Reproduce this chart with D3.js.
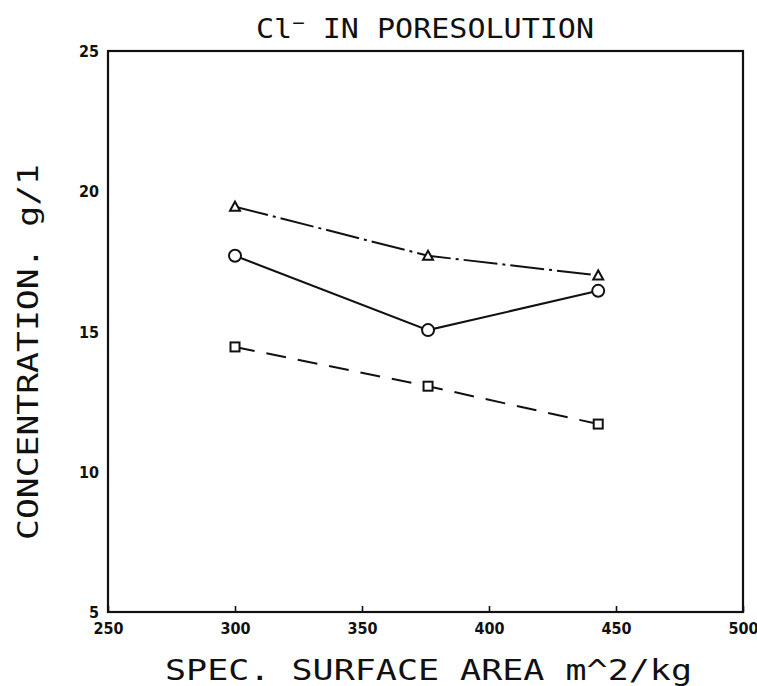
<!DOCTYPE html>
<html>
<head>
<meta charset="utf-8">
<script src="https://cdn.jsdelivr.net/npm/d3@7"></script>
<style>
body { margin: 0; background: #fff; }
svg { display: block; }
</style>
</head>
<body>
<script>
// Cl- in pore solution vs specific surface area

var surfaceArea = [300, 376, 443];
var triangleSeries = [19.45, 17.7, 17.0];
var circleSeries = [17.7, 15.05, 16.45];
var squareSeries = [14.45, 13.05, 11.7];
var xTicks = [250, 300, 350, 400, 450, 500];
var yTicks = [5, 10, 15, 20, 25];

var width = 757, height = 686;
var margin = {left: 108, right: 14, top: 51, bottom: 74};

var svg = d3.select('body').append('svg')
  .attr('width', width)
  .attr('height', height);

var x = d3.scaleLinear().domain([250, 500]).range([margin.left, width - margin.right]);
var y = d3.scaleLinear().domain([5, 25]).range([height - margin.bottom, margin.top]);

var font = "'DejaVu Sans Mono', monospace";

// frame
svg.append('rect')
  .attr('x', x(250)).attr('y', y(25))
  .attr('width', x(500) - x(250)).attr('height', y(5) - y(25))
  .attr('fill', 'none').attr('stroke', '#111').attr('stroke-width', 2.2);

// axes
var xAxis = svg.append('g')
  .attr('transform', 'translate(0,' + y(5) + ')')
  .call(d3.axisBottom(x).tickValues(xTicks).tickSizeInner(-6).tickSizeOuter(0).tickPadding(10));
var yAxis = svg.append('g')
  .attr('transform', 'translate(' + x(250) + ',0)')
  .call(d3.axisLeft(y).tickValues(yTicks).tickSize(0).tickPadding(9));

[xAxis, yAxis].forEach(function(a) {
  a.select('.domain').remove();
  a.selectAll('line').attr('stroke', '#111').attr('stroke-width', 1.6);
  a.selectAll('text')
    .attr('fill', '#111')
    .style('font-family', "'Liberation Sans Narrow', 'DejaVu Sans Condensed', sans-serif")
    .style('font-weight', 'bold')
    .style('font-size', '16px');
});
xAxis.selectAll('text').attr('dy', '0.72em');
yAxis.selectAll('text').attr('dy', '0.35em');

// series
var series = [
  {vals: triangleSeries, dash: '34,5,3,5', marker: 'triangle'},
  {vals: circleSeries, dash: null, marker: 'circle'},
  {vals: squareSeries, dash: '20,12', marker: 'square'}
];

var line = d3.line()
  .x(function(d) { return x(d[0]); })
  .y(function(d) { return y(d[1]); });

series.forEach(function(s) {
  var pts = surfaceArea.map(function(v, i) { return [v, s.vals[i]]; });
  svg.append('path')
    .datum(pts)
    .attr('d', line)
    .attr('fill', 'none')
    .attr('stroke', '#111')
    .attr('stroke-width', 2)
    .attr('stroke-dasharray', s.dash);

  var g = svg.append('g').selectAll('.m').data(pts).enter();
  if (s.marker === 'circle') {
    g.append('circle')
      .attr('cx', function(d) { return x(d[0]); })
      .attr('cy', function(d) { return y(d[1]); })
      .attr('r', 6)
      .attr('fill', '#fff').attr('stroke', '#111').attr('stroke-width', 2);
  } else if (s.marker === 'triangle') {
    g.append('path')
      .attr('d', function(d) {
        var cx = x(d[0]), cy = y(d[1]);
        return 'M' + (cx - 5) + ',' + (cy + 4) + 'L' + cx + ',' + (cy - 5) + 'L' + (cx + 5) + ',' + (cy + 4) + 'Z';
      })
      .attr('fill', '#fff').attr('stroke', '#111').attr('stroke-width', 2);
  } else {
    g.append('rect')
      .attr('x', function(d) { return x(d[0]) - 4.5; })
      .attr('y', function(d) { return y(d[1]) - 4.5; })
      .attr('width', 9).attr('height', 9)
      .attr('fill', '#fff').attr('stroke', '#111').attr('stroke-width', 2);
  }
});

// titles
var title = svg.append('text')
  .attr('x', 256).attr('y', 38)
  .attr('textLength', 338).attr('lengthAdjust', 'spacingAndGlyphs')
  .style('font-family', font).style('font-size', '26px').attr('fill', '#111');
title.append('tspan').text('Cl');
title.append('tspan').attr('dy', -9).style('font-size', '18px').text('\u2212');
title.append('tspan').attr('dy', 9).text(' IN PORESOLUTION');

svg.append('text')
  .attr('x', 165).attr('y', 680)
  .attr('textLength', 527).attr('lengthAdjust', 'spacingAndGlyphs')
  .style('font-family', font).style('font-size', '28px').attr('fill', '#111')
  .text('SPEC. SURFACE AREA m^2/kg');

svg.append('text')
  .attr('transform', 'translate(38,540) rotate(-90)')
  .attr('textLength', 376).attr('lengthAdjust', 'spacingAndGlyphs')
  .style('font-family', font).style('font-size', '28px').attr('fill', '#111')
  .text('CONCENTRATION. g/1');
</script>
</body>
</html>
